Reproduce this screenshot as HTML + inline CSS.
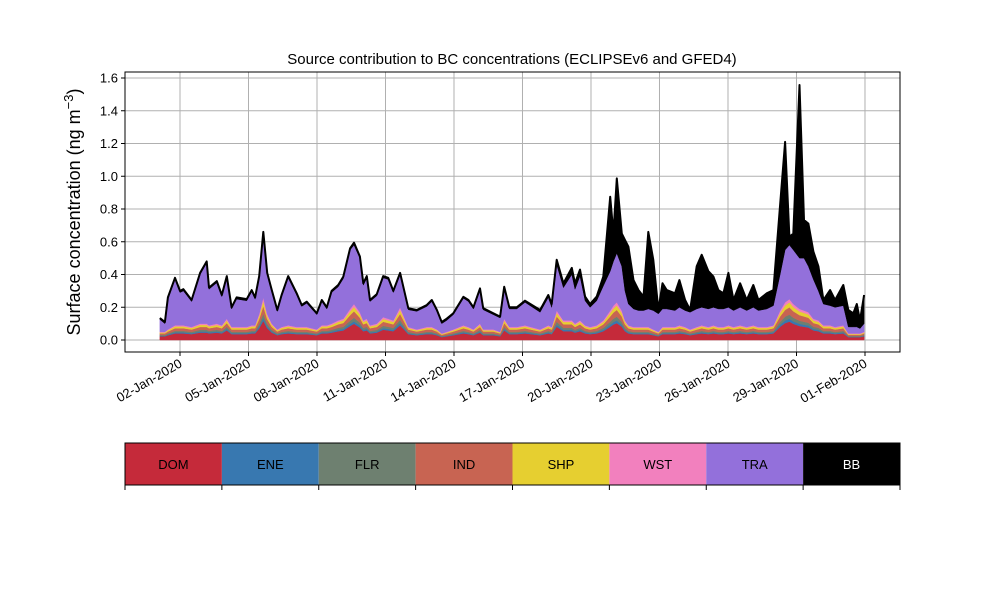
<!DOCTYPE html>
<html><head><meta charset="utf-8"><style>
body{margin:0;background:#fff;}
svg text{font-family:"Liberation Sans",sans-serif;}
</style></head><body>
<svg id="chart" width="1000" height="600" viewBox="0 0 1000 600" xmlns="http://www.w3.org/2000/svg">
<rect width="1000" height="600" fill="#fff"/>
<text x="512" y="64" font-size="15" text-anchor="middle">Source contribution to BC concentrations (ECLIPSEv6 and GFED4)</text>
<text transform="translate(80,212) rotate(-90)" font-size="18" text-anchor="middle">Surface concentration (ng m<tspan dy="-7" font-size="13">−3</tspan><tspan dy="7">)</tspan></text>
<g id="grid"></g><g id="areas"></g><g id="axes"></g><g id="legend"></g>
</svg>
<script>
const times=[0.12,0.34,0.47,0.78,1.0,1.15,1.51,1.88,2.17,2.27,2.61,2.83,3.05,3.26,3.48,3.92,4.14,4.29,4.47,4.65,4.82,5.02,5.26,5.45,5.74,6.11,6.33,6.55,6.99,7.21,7.43,7.64,7.93,8.15,8.45,8.62,8.88,9.03,9.18,9.32,9.62,9.90,10.12,10.34,10.64,11.0,11.37,11.81,12.03,12.25,12.46,12.68,12.97,13.41,13.63,13.85,14.14,14.28,14.72,15.02,15.2,15.42,15.75,16.11,16.77,17.13,17.28,17.5,17.79,18.16,18.30,18.52,18.74,18.96,19.25,19.54,19.84,19.98,20.13,20.35,20.49,20.64,20.86,21.08,21.3,21.51,21.73,21.95,22.13,22.32,22.68,22.87,23.12,23.34,23.63,23.85,24.14,24.36,24.58,24.8,25.02,25.24,25.53,25.82,26.11,26.33,26.7,26.99,27.28,27.5,27.69,27.86,28.13,28.33,28.52,28.74,28.96,29.18,29.47,29.69,30.05,30.27,30.49,30.64,30.78,30.96];
const totalBC=[.134,.11,.26,.38,.30,.31,.244,.41,.48,.32,.36,.275,.39,.20,.26,.25,.305,.26,.39,.66,.41,.305,.183,.275,.39,.285,.214,.234,.163,.244,.20,.30,.336,.387,.56,.594,.51,.346,.39,.244,.28,.39,.38,.30,.41,.194,.183,.214,.244,.183,.11,.13,.163,.264,.244,.20,.315,.194,.163,.143,.325,.20,.20,.24,.183,.275,.22,.49,.346,.44,.346,.43,.265,.22,.265,.387,.875,.65,.987,.65,.61,.57,.366,.305,.265,.66,.49,.183,.346,.305,.285,.366,.244,.183,.45,.52,.42,.387,.305,.285,.41,.244,.346,.244,.336,.244,.285,.305,.825,1.21,.63,.65,1.557,.733,.71,.54,.45,.244,.305,.244,.336,.183,.163,.22,.12,.275];
const traTop=[.125,.10,.25,.37,.29,.30,.235,.40,.47,.31,.35,.265,.38,.19,.25,.24,.295,.25,.38,.65,.40,.295,.175,.265,.38,.275,.205,.225,.155,.235,.19,.29,.325,.375,.55,.58,.50,.335,.38,.235,.27,.38,.37,.29,.40,.185,.175,.205,.235,.175,.10,.12,.155,.255,.235,.19,.305,.185,.155,.135,.315,.19,.19,.23,.17,.26,.20,.46,.32,.40,.31,.39,.24,.20,.24,.33,.42,.48,.53,.45,.30,.22,.19,.18,.18,.19,.18,.16,.19,.19,.18,.20,.18,.17,.19,.20,.19,.20,.19,.19,.20,.18,.20,.18,.20,.18,.19,.21,.40,.55,.58,.55,.50,.50,.45,.37,.30,.22,.21,.20,.21,.08,.08,.08,.07,.10];
const otherSum=[.05,.05,.065,.09,.09,.09,.08,.10,.10,.09,.10,.09,.13,.08,.08,.08,.09,.09,.16,.26,.16,.10,.065,.08,.09,.08,.08,.08,.065,.09,.09,.10,.12,.13,.19,.22,.17,.12,.13,.09,.10,.14,.13,.12,.20,.08,.065,.08,.08,.065,.04,.05,.065,.09,.08,.065,.10,.065,.065,.05,.13,.08,.08,.09,.065,.09,.08,.18,.12,.12,.10,.12,.09,.08,.09,.12,.18,.21,.23,.18,.12,.09,.08,.08,.08,.08,.065,.05,.08,.08,.08,.09,.08,.065,.08,.09,.08,.09,.08,.08,.09,.08,.09,.08,.09,.08,.08,.09,.18,.23,.25,.22,.19,.18,.17,.13,.12,.09,.09,.08,.09,.04,.04,.04,.04,.05];
const sources=['DOM','ENE','FLR','IND','SHP','WST','TRA','BB'];
const sourceShare=[0.45,0.07,0.10,0.18,0.12,0.08];
const colors=['#c52a3a','#3878b0','#6e8070','#c86452','#e6cf30','#f280be','#9370db','#000000'];
const yTicks=[0,0.2,0.4,0.6,0.8,1.0,1.2,1.4,1.6];
const xTickDays=[1,4,7,10,13,16,19,22,25,28,31];
const xTickLabels=['02-Jan-2020','05-Jan-2020','08-Jan-2020','11-Jan-2020','14-Jan-2020','17-Jan-2020','20-Jan-2020','23-Jan-2020','26-Jan-2020','29-Jan-2020','01-Feb-2020'];

const NS='http://www.w3.org/2000/svg';
const L=125,R=900,T=72,B=352;
const xs=t=>180+(t-1)*22.833;
const ys=v=>340-v*163.75;
function mk(tag,attrs,parent){const e=document.createElementNS(NS,tag);for(const k in attrs)e.setAttribute(k,attrs[k]);parent.appendChild(e);return e;}
const grid=document.getElementById('grid'),areas=document.getElementById('areas'),axes=document.getElementById('axes'),legend=document.getElementById('legend');

yTicks.forEach(v=>{const y=ys(v);
 const g=mk('line',{x1:L,x2:R,y1:y,y2:y,stroke:'#b0b0b0','stroke-width':1},grid);
 
 mk('line',{x1:L-4,x2:L,y1:y,y2:y,stroke:'#000'},axes);
 const t=mk('text',{x:L-7,y:y+4.5,'font-size':13,'text-anchor':'end'},axes);t.textContent=v.toFixed(1);
 
});
xTickDays.forEach((d,i)=>{const x=xs(d);
 const g=mk('line',{x1:x,x2:x,y1:T,y2:B,stroke:'#b0b0b0','stroke-width':1},grid);
 
 mk('line',{x1:x,x2:x,y1:B,y2:B+4,stroke:'#000'},axes);
 const t=mk('text',{transform:`translate(${x+3},${B+14}) rotate(-30)`,'font-size':13,'text-anchor':'end'},axes);t.textContent=xTickLabels[i];
 
});

const shareSum=sourceShare.reduce((a,b)=>a+b,0);
const n=times.length;const cum=[];let prev=new Array(n).fill(0);
for(let k=0;k<8;k++){const cur=[];for(let i=0;i<n;i++){
 let v; if(k<6){v=prev[i]+otherSum[i]*sourceShare[k]/shareSum;}
 else if(k===6)v=traTop[i]; else v=totalBC[i];
 cur.push(v);} cum.push({lo:prev,hi:cur});prev=cur;}
cum.forEach((c,k)=>{let d='';
 for(let i=0;i<n;i++)d+=(i?'L':'M')+xs(times[i]).toFixed(1)+','+ys(c.hi[i]).toFixed(1);
 for(let i=n-1;i>=0;i--)d+='L'+xs(times[i]).toFixed(1)+','+ys(c.lo[i]).toFixed(1);
 const p=mk('path',{d:d+'Z',fill:colors[k],stroke:colors[k],'stroke-width':0.5},areas);
 
});
let d='';for(let i=0;i<n;i++)d+=(i?'L':'M')+xs(times[i]).toFixed(1)+','+ys(totalBC[i]).toFixed(1);
const tl=mk('path',{d:d,fill:'none',stroke:'#000','stroke-width':2,'stroke-linejoin':'round'},areas);


const fr=mk('rect',{x:L,y:T,width:R-L,height:B-T,fill:'none',stroke:'#000','stroke-width':1},axes);


const w=(R-L)/8;
sources.forEach((s,k)=>{const x=L+k*w;
 const r=mk('rect',{x:x,y:443,width:w,height:42,fill:colors[k]},legend);
 
 const t=mk('text',{x:x+w/2,y:469,'font-size':13,'text-anchor':'middle',fill:k===7?'#fff':'#000'},legend);t.textContent=s;
 
});
for(let k=0;k<=8;k++){const x=L+k*w;mk('line',{x1:x,x2:x,y1:485,y2:490,stroke:'#000'},legend);}
const lf=mk('rect',{x:L,y:443,width:R-L,height:42,fill:'none',stroke:'#000','stroke-width':1},legend);

</script>
</body></html>
